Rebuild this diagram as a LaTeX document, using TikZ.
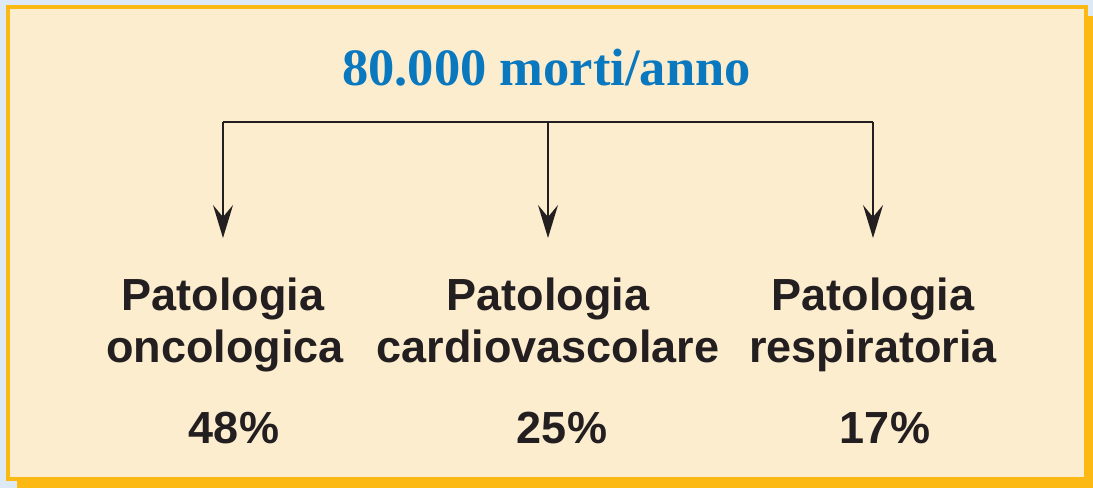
\documentclass[tikz,border=0pt]{standalone}
\usepackage{fontspec}
\setmainfont{Liberation Sans}
\newfontfamily\titlefont{Liberation Serif}
\usetikzlibrary{arrows.meta}
\definecolor{bgblue}{HTML}{DEE9F6}
\definecolor{cream}{HTML}{FDEDCF}
\definecolor{frameorange}{HTML}{FDB913}
\definecolor{titleblue}{HTML}{0A78BE}
\definecolor{ink}{HTML}{231F20}
\tikzset{
  px/.style={x=1pt,y=-1pt},
  label/.style={font=\fontsize{45}{52}\selectfont\bfseries, text=ink, align=center, inner sep=0pt, anchor=base},
  pct/.style={font=\fontsize{45}{52}\selectfont\bfseries, text=ink, inner sep=0pt, anchor=base},
  title/.style={font=\titlefont\fontsize{52.5}{60}\selectfont\bfseries, text=titleblue, inner sep=0pt, anchor=base},
  conn/.style={draw=ink, line width=2pt},
  arr/.style={conn, -{Stealth[length=33pt, width=20pt, inset=12pt]}}
}
\begin{document}
\begin{tikzpicture}[px]
\useasboundingbox (0,0) rectangle (1093,488);
\fill[bgblue] (0,0) rectangle (1093,488);
\fill[frameorange] (17,16) rectangle (1093,488);
\fill[frameorange] (6,5) rectangle (1088,481);
\fill[cream] (10,9) rectangle (1084,477);
\node[title] (t) at (546.5,85) {80.000 morti/anno};
\coordinate (h1) at (223,122);
\coordinate (h2) at (548,122);
\coordinate (h3) at (873,122);
\coordinate (e1) at (223,238);
\coordinate (e2) at (548,238);
\coordinate (e3) at (873,238);
\draw[conn] (h1) -- (h3);
\draw[arr] (h1) -- (e1);
\draw[arr] (h2) -- (e2);
\draw[arr] (h3) -- (e3);
\node[label] (a1) at (223,310) {Patologia};
\node[label] (b1) at (225,362) {oncologica};
\node[label] (a2) at (548,310) {Patologia};
\node[label] (b2) at (548,362) {cardiovascolare};
\node[label] (a3) at (873,310) {Patologia};
\node[label] (b3) at (873,362) {respiratoria};
\node[pct] (p1) at (234,443) {48\%};
\node[pct] (p2) at (562,443) {25\%};
\node[pct] (p3) at (885,443) {17\%};
\end{tikzpicture}
\end{document}
